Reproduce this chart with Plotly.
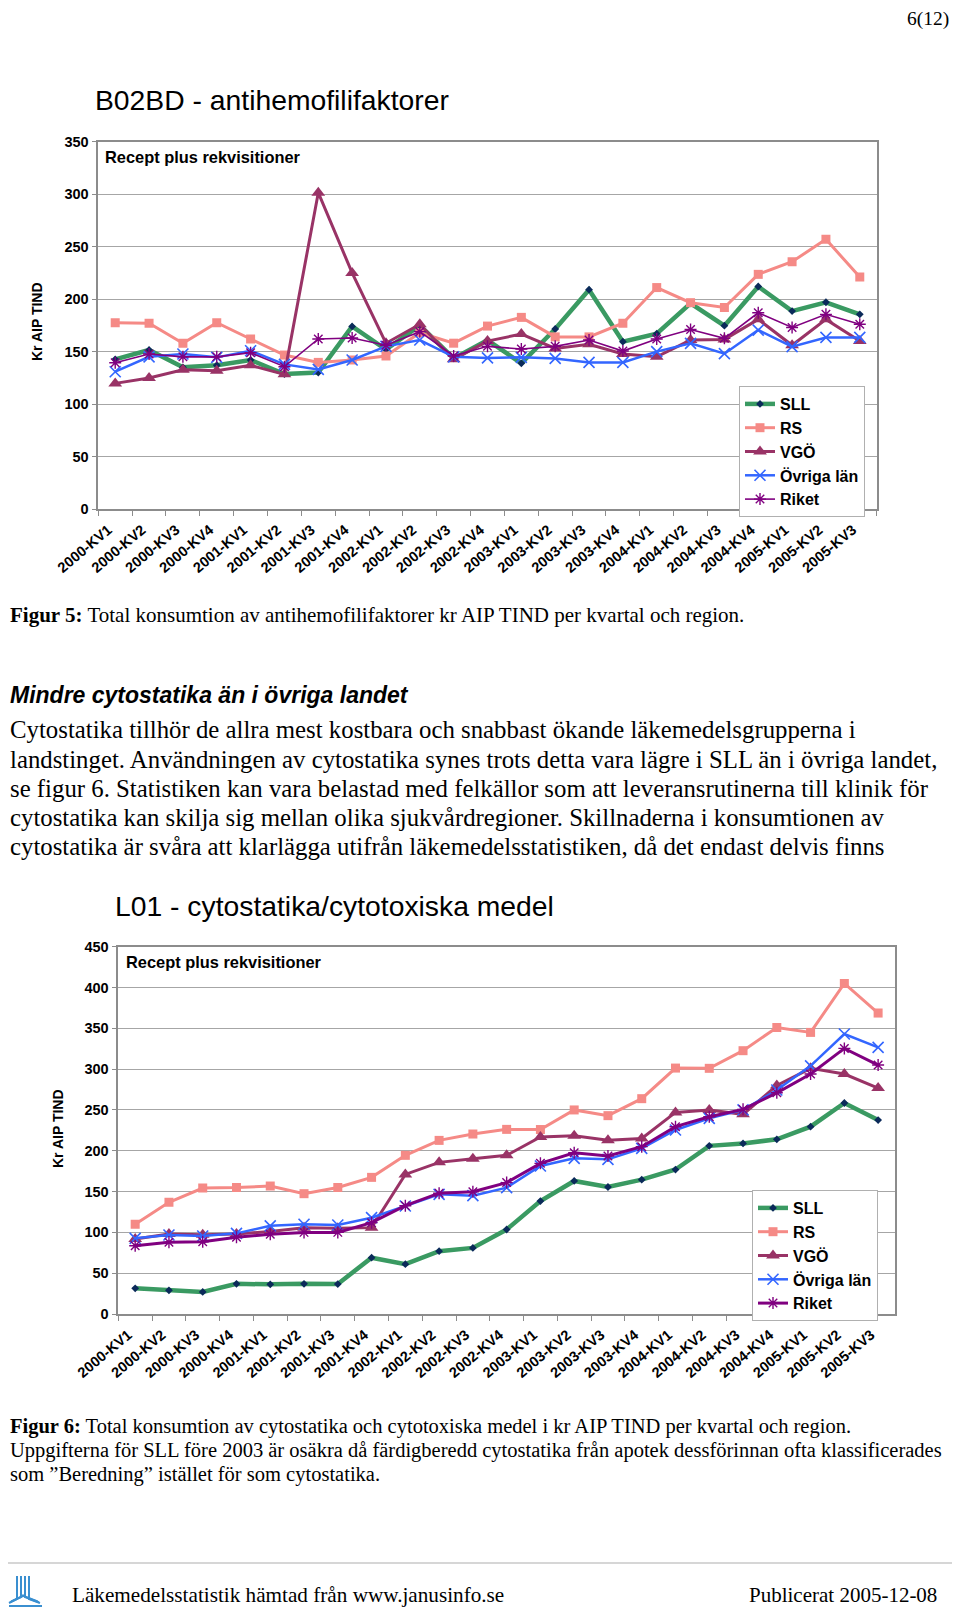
import plotly.graph_objects as go

# The page body has an 8px margin; the figure is sized so the page does not
# overflow the 960x1616 window, and page coordinates are shifted by that offset.
PAGE_W, PAGE_H = 960, 1616
OFF = 8
W, H = PAGE_W - 2 * OFF, PAGE_H - 2 * OFF

categories = [f"{y}-KV{q}" for y in range(2000, 2006) for q in range(1, 5)][:23]

series_names = ["SLL", "RS", "VGÖ", "Övriga län", "Riket"]

# Chart 1: B02BD - antihemofilifaktorer
sll_top = [142.6, 151.5, 135, 137, 142, 128.6, 130, 174, 152, 175, 143.5, 161, 138.8, 171.5, 209, 159.4, 167, 196, 174.7, 212, 188.6, 197, 185.5]
rs_top = [177.5, 177, 158, 177.5, 162, 146.7, 139.7, 142, 145.8, 168, 158, 174.3, 182.6, 164, 164, 177, 211, 196.6, 192, 223.6, 235.6, 257, 221]
vgo_top = [119.7, 124.8, 132.7, 131.8, 136.9, 128.3, 301.4, 225, 158, 176, 142.6, 160, 166.7, 153, 157, 147.7, 145, 161, 161.6, 180.7, 156, 180.7, 160]
ovr_top = [130.8, 145, 147.7, 144.5, 150.8, 137.8, 133, 142, 155, 161, 145, 144, 144.5, 143.5, 139.7, 139.7, 150, 157.8, 148, 170.5, 154.7, 163.5, 163.5]
riket_top = [139.4, 147.7, 145, 145, 149, 135.6, 162, 163, 156, 169, 145.8, 155, 152.4, 155, 161, 150.5, 162, 171, 162.6, 187, 173, 185.5, 176]

# Chart 2: L01 - cytostatika/cytotoxiska medel
sll_bot = [31.4, 29, 27, 37, 36.3, 37, 36.7, 69, 61, 77, 81, 103.5, 138.4, 163, 155.6, 164.6, 177, 206, 209, 214, 229.5, 258.5, 237.6]
rs_bot = [110, 136.8, 154.3, 155, 156.8, 147.4, 155, 167.4, 194.4, 212.7, 220.5, 226.2, 226, 250, 243, 263.8, 301.3, 301, 322.6, 351, 345, 405, 368.7]
vgo_bot = [92, 98, 97, 98, 101, 105.8, 105, 105.8, 171, 185.8, 190.3, 194.4, 217, 218.5, 213, 215, 247, 250, 244.6, 280, 301, 294, 276.8]
ovr_bot = [92.7, 96.8, 95.5, 98.8, 108, 110, 109, 118, 132.3, 146.6, 145, 154.8, 181.3, 190.7, 189.5, 203, 225.4, 239.7, 250, 274.4, 304, 343, 326.7]
riket_bot = [83.7, 87.8, 88.6, 94, 97.6, 100, 100, 111.9, 132.7, 148, 149.8, 161, 184.6, 197.6, 193.5, 205, 229.5, 241.7, 250.7, 271, 294, 325.4, 305]

top_ticks = [0, 50, 100, 150, 200, 250, 300, 350]
bot_ticks = [0, 50, 100, 150, 200, 250, 300, 350, 400, 450]

SANS = "Liberation Sans, Arial, sans-serif"
SERIF = "Liberation Serif, Times New Roman, serif"


def px(x):
    return (x - OFF) / W


def py(y):
    return 1 - (y - OFF) / H


styles = {
    "SLL": dict(line=dict(color="#3a9a62", width=4.5),
                marker=dict(symbol="diamond", size=6, color="#0b2a5a",
                            line=dict(width=0))),
    "RS": dict(line=dict(color="#f58a86", width=3),
               marker=dict(symbol="square", size=9, color="#f58a86",
                           line=dict(width=0))),
    "VGÖ": dict(line=dict(color="#993366", width=3),
                marker=dict(symbol="triangle-up", size=12, color="#993366",
                            line=dict(width=0))),
    "Övriga län": dict(line=dict(color="#3366ff", width=2.5),
                       marker=dict(symbol="x-thin-open", size=11, color="#3366ff",
                                   line=dict(width=1.6, color="#3366ff"))),
    "Riket": dict(line=dict(color="#800080", width=1.6),
                  marker=dict(symbol="asterisk-open", size=10, color="#800080",
                              line=dict(width=1.4, color="#800080"))),
}

fig = go.Figure()

top_data = [sll_top, rs_top, vgo_top, ovr_top, riket_top]
bot_data = [sll_bot, rs_bot, vgo_bot, ovr_bot, riket_bot]

for name, vals in zip(series_names, top_data):
    st = styles[name]
    fig.add_trace(go.Scatter(x=categories, y=vals, name=name, mode="lines+markers",
                             line=st["line"], marker=st["marker"],
                             xaxis="x", yaxis="y", legend="legend"))

for name, vals in zip(series_names, bot_data):
    st = styles[name]
    line = dict(st["line"])
    if name == "Riket":
        line = dict(color="#800080", width=3)
    fig.add_trace(go.Scatter(x=categories, y=vals, name=name, mode="lines+markers",
                             line=line, marker=st["marker"],
                             xaxis="x2", yaxis="y2", legend="legend2"))

tickfont = dict(family=SANS, size=14.5, color="black", weight="bold")
xtickfont = dict(family=SANS, size=14.5, color="black", weight="bold")

common_x = dict(type="category", categoryorder="array", categoryarray=categories,
                range=[-0.5, 22.5], tickangle=-40, tickfont=xtickfont,
                ticklabelshift=-7, ticklabelstandoff=5,
                showline=True, linecolor="#8c8c8c", linewidth=1.5, mirror=True,
                ticks="outside", tickson="boundaries", ticklen=5, tickcolor="#8c8c8c",
                showgrid=False, zeroline=False, automargin=False)
common_y = dict(showline=True, linecolor="#8c8c8c", linewidth=1.5, mirror=True,
                ticks="outside", ticklen=5, tickcolor="#8c8c8c", tickfont=tickfont,
                gridcolor="#a6a6a6", gridwidth=1, zeroline=False, automargin=False)

legend_common = dict(bgcolor="white", bordercolor="#b0b0b0", borderwidth=1,
                     font=dict(family=SANS, size=16, color="black", weight="bold"),
                     xanchor="left", yanchor="top", tracegroupgap=0,
                     itemwidth=30)

fig.update_layout(
    template="none",
    width=W, height=H,
    margin=dict(l=0, r=0, t=0, b=0, autoexpand=False),
    paper_bgcolor="white", plot_bgcolor="white",
    xaxis=dict(domain=[px(98.3), px(876.7)], anchor="y", **common_x),
    yaxis=dict(domain=[py(509), py(141.7)], anchor="x", range=[0, 350],
               tickvals=top_ticks, **common_y),
    xaxis2=dict(domain=[px(118.3), px(895)], anchor="y2", **common_x),
    yaxis2=dict(domain=[py(1314), py(946.7)], anchor="x2", range=[0, 450],
                tickvals=bot_ticks, **common_y),
    legend=dict(x=px(739), y=py(386), **legend_common),
    legend2=dict(x=px(752), y=py(1190), **legend_common),
    showlegend=True,
)

ann = []


def add_text(text, x, y, size, family=SERIF, xanchor="left", yanchor="middle",
             weight="normal", style="normal", angle=0, color="black"):
    ann.append(dict(text=text, x=px(x), y=py(y), xref="paper", yref="paper",
                    xanchor=xanchor, yanchor=yanchor, showarrow=False,
                    textangle=angle,
                    font=dict(family=family, size=size, color=color,
                              weight=weight, style=style)))


LEFT = 8
add_text("6(12)", 951, 19, 19.5, xanchor="right")
add_text("B02BD - antihemofilifaktorer", 93, 100, 28.3, family=SANS)
add_text("Recept plus rekvisitioner", 103, 157, 16.4, family=SANS, weight="bold")
add_text("Kr AIP TIND", 37, 322, 14, family=SANS, weight="bold", xanchor="center", angle=-90)
add_text("<b>Figur 5:</b> Total konsumtion av antihemofilifaktorer kr AIP TIND per kvartal och region.",
         LEFT, 615, 21)
add_text("Mindre cytostatika än i övriga landet", LEFT, 695, 23, family=SANS,
         weight="bold", style="italic")

para = [
    "Cytostatika tillhör de allra mest kostbara och snabbast ökande läkemedelsgrupperna i",
    "landstinget. Användningen av cytostatika synes trots detta vara lägre i SLL än i övriga landet,",
    "se figur 6. Statistiken kan vara belastad med felkällor som att leveransrutinerna till klinik för",
    "cytostatika kan skilja sig mellan olika sjukvårdregioner. Skillnaderna i konsumtionen av",
    "cytostatika är svåra att klarlägga utifrån läkemedelsstatistiken, då det endast delvis finns",
]
for i, line in enumerate(para):
    add_text(line, LEFT, 730 + i * 29.2, 24.8)

add_text("L01 - cytostatika/cytotoxiska medel", 113, 906, 28.3, family=SANS)
add_text("Recept plus rekvisitioner", 124, 962, 16.4, family=SANS, weight="bold")
add_text("Kr AIP TIND", 58, 1129, 14, family=SANS, weight="bold", xanchor="center", angle=-90)

cap6 = [
    "<b>Figur 6:</b> Total konsumtion av cytostatika och cytotoxiska medel i kr AIP TIND per kvartal och region.",
    "Uppgifterna för SLL före 2003 är osäkra då färdigberedd cytostatika från apotek dessförinnan ofta klassificerades",
    "som ”Beredning” istället för som cytostatika.",
]
for i, line in enumerate(cap6):
    add_text(line, LEFT, 1426 + i * 24, 20.5)

add_text("Läkemedelsstatistik hämtad från www.janusinfo.se", 70, 1595, 21.2)
add_text("Publicerat 2005-12-08", 939, 1595, 21, xanchor="right")

fig.update_layout(annotations=ann)

shapes = [
    dict(type="line", xref="paper", yref="paper", x0=0, x1=1, y0=py(1563), y1=py(1563),
         line=dict(color="#c8c8c8", width=1.5)),
]
# simple logo approximation
logo_color = "#3a8fd0"
for dx in (0, 4, 8):
    shapes.append(dict(type="path", xref="paper", yref="paper",
                       path=f"M {px(17 + dx)} {py(1576)} L {px(17 + dx)} {py(1599 - dx * 0.5)} "
                            f"L {px(9 + dx * 0.3)} {py(1603 - dx * 0.2)}",
                       line=dict(color=logo_color, width=2)))
    shapes.append(dict(type="path", xref="paper", yref="paper",
                       path=f"M {px(29 - dx)} {py(1576)} L {px(29 - dx)} {py(1599 - dx * 0.5)} "
                            f"L {px(40 - dx * 0.3)} {py(1603 - dx * 0.2)}",
                       line=dict(color=logo_color, width=2)))
shapes.append(dict(type="line", xref="paper", yref="paper", x0=px(9), x1=px(42),
                   y0=py(1606), y1=py(1606), line=dict(color=logo_color, width=2)))
fig.update_layout(shapes=shapes)

fig.write_html("out.html")
